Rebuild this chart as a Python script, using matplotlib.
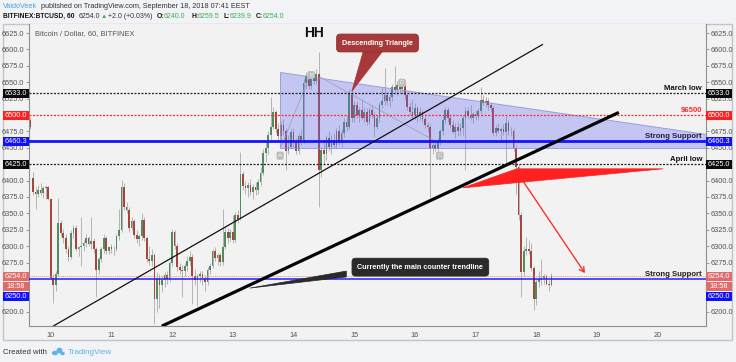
import numpy as np
import matplotlib
matplotlib.use("Agg")
import matplotlib.pyplot as plt
from matplotlib.patches import Polygon, Rectangle, Ellipse
from matplotlib.transforms import blended_transform_factory

plt.rcParams["font.family"] = ["Liberation Sans", "DejaVu Sans"]

# ---------------------------------------------------------------- data
# BITFINEX:BTCUSD 60 min candles (open, high, low, close), one list per day
sep09 = [(6492, 6497, 6478, 6482), (6404, 6413, 6378, 6383), (6383, 6390, 6356, 6380),
         (6380, 6393, 6375, 6386), (6386, 6396, 6378, 6381), (6381, 6392, 6374, 6388),
         (6388, 6394, 6372, 6390), (6390, 6392, 6370, 6372)]
sep10 = [(6372, 6374, 6250, 6252), (6252, 6258, 6214, 6240), (6240, 6262, 6232, 6258),
         (6258, 6374, 6255, 6336), (6336, 6340, 6315, 6320), (6320, 6326, 6305, 6313),
         (6313, 6318, 6290, 6295), (6295, 6300, 6278, 6283), (6283, 6325, 6280, 6320),
         (6320, 6333, 6312, 6328), (6328, 6332, 6292, 6296), (6296, 6300, 6285, 6298),
         (6298, 6345, 6270, 6300), (6300, 6310, 6292, 6305), (6305, 6318, 6298, 6312),
         (6312, 6316, 6300, 6304), (6304, 6345, 6296, 6308), (6308, 6312, 6290, 6295),
         (6295, 6298, 6222, 6264), (6264, 6284, 6258, 6280), (6280, 6298, 6276, 6295),
         (6295, 6318, 6290, 6312), (6312, 6316, 6288, 6292), (6292, 6300, 6288, 6298)]
sep11 = [(6298, 6304, 6290, 6295), (6295, 6300, 6287, 6296), (6296, 6318, 6292, 6315),
         (6315, 6356, 6310, 6325), (6325, 6401, 6322, 6391), (6391, 6396, 6355, 6359),
         (6359, 6368, 6350, 6355), (6355, 6360, 6322, 6328), (6328, 6345, 6325, 6338),
         (6338, 6342, 6312, 6317), (6317, 6325, 6305, 6311), (6311, 6318, 6300, 6315),
         (6315, 6351, 6310, 6340), (6340, 6345, 6308, 6312), (6312, 6316, 6276, 6280),
         (6280, 6300, 6272, 6278), (6278, 6296, 6270, 6287), (6287, 6290, 6181, 6219),
         (6219, 6260, 6200, 6252), (6252, 6258, 6205, 6240), (6240, 6255, 6230, 6248),
         (6248, 6260, 6238, 6256), (6256, 6262, 6242, 6250), (6250, 6278, 6246, 6275)]
sep12 = [(6275, 6326, 6270, 6321), (6321, 6324, 6295, 6300), (6300, 6305, 6262, 6268),
         (6268, 6275, 6258, 6264), (6264, 6272, 6222, 6262), (6262, 6275, 6255, 6270),
         (6270, 6285, 6262, 6278), (6278, 6292, 6272, 6284), (6284, 6288, 6212, 6254),
         (6254, 6265, 6240, 6248), (6248, 6258, 6208, 6255), (6255, 6262, 6245, 6258),
         (6258, 6262, 6240, 6252), (6252, 6256, 6232, 6245), (6245, 6268, 6240, 6264),
         (6264, 6275, 6258, 6270), (6270, 6296, 6266, 6292), (6292, 6298, 6278, 6282),
         (6282, 6290, 6272, 6286), (6286, 6290, 6270, 6276), (6276, 6356, 6272, 6299),
         (6299, 6330, 6295, 6321), (6321, 6328, 6305, 6312), (6312, 6326, 6308, 6322)]
sep13 = [(6322, 6348, 6305, 6310), (6310, 6352, 6306, 6348), (6348, 6355, 6336, 6342),
         (6342, 6444, 6340, 6410), (6410, 6415, 6385, 6392), (6392, 6400, 6380, 6388),
         (6388, 6398, 6375, 6394), (6394, 6402, 6378, 6383), (6383, 6395, 6372, 6390),
         (6390, 6398, 6378, 6385), (6385, 6402, 6380, 6398), (6398, 6420, 6392, 6412),
         (6412, 6448, 6408, 6442), (6442, 6460, 6428, 6450), (6450, 6476, 6440, 6470),
         (6470, 6528, 6462, 6482), (6482, 6512, 6478, 6505), (6505, 6508, 6472, 6478),
         (6478, 6488, 6460, 6468), (6468, 6490, 6462, 6485), (6485, 6494, 6470, 6476),
         (6476, 6480, 6416, 6445), (6445, 6470, 6440, 6452), (6452, 6478, 6448, 6474)]
sep14 = [(6474, 6480, 6450, 6458), (6458, 6465, 6440, 6445), (6445, 6472, 6440, 6468),
         (6468, 6478, 6455, 6462), (6462, 6555, 6458, 6549), (6549, 6565, 6540, 6560),
         (6560, 6566, 6540, 6545), (6545, 6562, 6540, 6558), (6558, 6566, 6548, 6552),
         (6552, 6570, 6548, 6562), (6562, 6596, 6359, 6416), (6416, 6452, 6405, 6447),
         (6447, 6460, 6425, 6440), (6440, 6470, 6432, 6465), (6465, 6475, 6445, 6452),
         (6452, 6470, 6440, 6462), (6462, 6472, 6450, 6455), (6455, 6480, 6450, 6475),
         (6475, 6485, 6455, 6460), (6460, 6478, 6452, 6472), (6472, 6495, 6466, 6490),
         (6490, 6500, 6476, 6482), (6482, 6540, 6478, 6533), (6533, 6536, 6490, 6496)]
sep15 = [(6496, 6522, 6490, 6515), (6515, 6522, 6495, 6500), (6500, 6512, 6490, 6508),
         (6508, 6525, 6492, 6495), (6495, 6512, 6490, 6505), (6505, 6510, 6485, 6490),
         (6490, 6512, 6486, 6508), (6508, 6515, 6495, 6500), (6500, 6505, 6467, 6482),
         (6482, 6500, 6478, 6496), (6496, 6520, 6490, 6515), (6515, 6543, 6510, 6522),
         (6522, 6572, 6515, 6530), (6530, 6535, 6515, 6522), (6522, 6532, 6512, 6528),
         (6528, 6548, 6522, 6543), (6543, 6575, 6532, 6538), (6538, 6552, 6530, 6546),
         (6546, 6556, 6535, 6540), (6540, 6552, 6532, 6546), (6546, 6550, 6525, 6530),
         (6530, 6534, 6508, 6512), (6512, 6520, 6500, 6505), (6505, 6525, 6495, 6500)]
sep16 = [(6500, 6518, 6494, 6510), (6510, 6514, 6490, 6498), (6498, 6512, 6492, 6505),
         (6505, 6508, 6490, 6494), (6494, 6498, 6480, 6485), (6485, 6490, 6475, 6482),
         (6482, 6486, 6374, 6450), (6450, 6462, 6440, 6455), (6455, 6462, 6445, 6448),
         (6448, 6465, 6445, 6460), (6460, 6478, 6455, 6475), (6475, 6498, 6470, 6493),
         (6493, 6512, 6488, 6508), (6508, 6512, 6490, 6496), (6496, 6500, 6480, 6485),
         (6485, 6492, 6472, 6474), (6474, 6488, 6465, 6482), (6482, 6490, 6468, 6476),
         (6476, 6488, 6470, 6480), (6480, 6500, 6470, 6495), (6495, 6512, 6416, 6506),
         (6506, 6512, 6495, 6500), (6500, 6515, 6492, 6496), (6496, 6505, 6488, 6502)]
sep17 = [(6502, 6508, 6492, 6498), (6498, 6510, 6494, 6506), (6506, 6543, 6502, 6523),
         (6523, 6530, 6515, 6518), (6518, 6528, 6512, 6522), (6522, 6526, 6508, 6515),
         (6515, 6520, 6505, 6510), (6510, 6514, 6468, 6473), (6473, 6485, 6468, 6480),
         (6480, 6488, 6472, 6476), (6476, 6482, 6462, 6478), (6478, 6486, 6470, 6474),
         (6474, 6498, 6427, 6488), (6488, 6492, 6470, 6475), (6475, 6482, 6468, 6476),
         (6476, 6480, 6445, 6450), (6450, 6455, 6380, 6420), (6420, 6425, 6340, 6348),
         (6348, 6352, 6223, 6260), (6260, 6300, 6255, 6292), (6292, 6314, 6286, 6296),
         (6296, 6310, 6288, 6292), (6292, 6305, 6262, 6267), (6267, 6270, 6203, 6219)]
sep18 = [(6219, 6250, 6210, 6245), (6245, 6262, 6238, 6250), (6250, 6280, 6240, 6252),
         (6252, 6258, 6242, 6254), (6254, 6258, 6240, 6243), (6243, 6248, 6232, 6240),
         (6240, 6259.5, 6239.9, 6254)]
first_bar = 9 + 16 / 24          # Sep 9, 16:00 (x axis in days of September)

# horizontal levels
level_march = 6533.0
level_6500 = 6500.0
level_support = 6460.3
level_april = 6425.0
level_last = 6254.0
level_support2 = 6250.0

# drawings (time in days, price)
thin_trend_t, thin_trend_p = [10.04, 18.11], [6178, 6608]
thick_trend_t, thick_trend_p = [11.83, 19.36], [6178, 6504]
triangle_t = [13.78, 13.78, 20.80, 20.80]
triangle_p = [6565, 6449, 6449, 6471]
pattern_t = [13.80, 14.27, 14.44, 16.30]
pattern_p = [6452, 6561, 6558, 6462]
point_names = ["A", "B", "C", "D"]
point_t = [13.78, 14.29, 16.41, 15.79]
point_p = [6438, 6561, 6438, 6549]
flag_t, flag_p = [16.79, 17.68, 20.09], [6389, 6418, 6418]
arrow_t, arrow_p = [17.79, 18.80], [6398, 6259]
days = list(range(10, 21))
yticks = [v for v in range(6200, 6626, 25) if v not in (6225, 6250, 6425, 6500)]

# ---------------------------------------------------------------- figure
W, H = 736, 362
fig = plt.figure(figsize=(W / 100, H / 100), dpi=100, facecolor="#f1f3f6")

ov = fig.add_axes([0, 0, 1, 1], zorder=-1)
ov.set_xlim(0, W); ov.set_ylim(H, 0); ov.axis("off")
ov.add_patch(Rectangle((3, 24), 729, 316, fc="#f2f2f2", ec="#c4c4c4", lw=1))

ax = fig.add_axes([29 / W, 1 - 326 / H, 677 / W, 302 / H])
ax.set_facecolor("#f2f2f2")
ax.set_xlim(9.6425, 20.796)
ax.set_ylim(6178.2, 6638.9)
for s in ["left", "right", "bottom"]:
    ax.spines[s].set_color("#8e8e8e"); ax.spines[s].set_linewidth(0.8)
ax.spines["top"].set_visible(False)

ax.set_yticks(yticks)
ax.set_yticklabels([f"{v:.1f}" for v in yticks])
ax.tick_params(axis="y", left=True, right=True, labelleft=True, labelright=True,
               labelsize=5.3, colors="#8e8e8e", labelcolor="#555555", length=2, pad=1.5,
               width=0.6)
ax.set_xticks(days)
ax.set_xticklabels([str(d) for d in days])
ax.tick_params(axis="x", labelsize=5.3, labelcolor="#555555", length=0, pad=4)

# candles
ohlc = np.array(sep09 + sep10 + sep11 + sep12 + sep13 + sep14 + sep15 + sep16 + sep17 + sep18,
                dtype=float)
t = first_bar + np.arange(len(ohlc)) / 24
o, h, l, c = ohlc.T
up = c >= o
ax.vlines(t, l, h, color="#b4b4b4", lw=0.7, zorder=2)
body = np.maximum(np.abs(c - o), 1.2)
ax.bar(t[up], body[up], bottom=o[up], width=0.68 / 24, color="#4f8d5e", lw=0, zorder=3)
ax.bar(t[~up], body[~up], bottom=c[~up], width=0.68 / 24, color="#a6453b", lw=0, zorder=3)

# descending triangle zone
ax.add_patch(Polygon(list(zip(triangle_t, triangle_p)), closed=True, fc=(0.40, 0.42, 0.95, 0.33),
                     ec=(0.55, 0.56, 0.85, 0.8), lw=0.7, zorder=4))
ax.plot(pattern_t[:2], pattern_p[:2], color="#9a9ab8", lw=0.5, zorder=4)
ax.plot(pattern_t[2:], pattern_p[2:], color="#9a9ab8", lw=0.5, zorder=4)
for name, pt, pp in zip(point_names, point_t, point_p):
    ax.text(pt, pp, name, fontsize=4.5, color="#f4f4f4", ha="center", va="center", zorder=6,
            bbox=dict(boxstyle="round,pad=0.25,rounding_size=0.3", fc="#bcbcbc", ec="none"))

# horizontal levels
ax.axhline(level_march, color="#222222", lw=0.9, ls=(0, (1.6, 1.2)), zorder=5)
ax.axhline(level_6500, color="#ff2b2b", lw=0.9, ls=(0, (1.6, 1.2)), zorder=5)
ax.axhline(level_support, color="#1414ff", lw=2.0, zorder=5)
ax.axhline(level_april, color="#222222", lw=0.9, ls=(0, (1.6, 1.2)), zorder=5)
ax.axhline(level_last, color="#ff8a8a", lw=0.6, ls=(0, (1.5, 1.0)), zorder=5)
ax.axhline(level_support2, color="#2020ff", lw=1.1, zorder=5)

# trend lines
ax.plot(thin_trend_t, thin_trend_p, color="#111111", lw=0.9, zorder=6, solid_capstyle="butt")
ax.plot(thick_trend_t, thick_trend_p, color="#050505", lw=2.3, zorder=6, solid_capstyle="butt")

# red bear flag + arrow
ax.add_patch(Polygon(list(zip(flag_t, flag_p)), closed=True, fc="#ff2020", ec="#ff2020",
                     lw=0.5, zorder=7))
ax.annotate("", xy=(arrow_t[1], arrow_p[1]), xytext=(arrow_t[0], arrow_p[0]), zorder=7,
            arrowprops=dict(arrowstyle="->,head_length=0.35,head_width=0.2", color="#ff2020",
                            lw=0.9, shrinkA=0, shrinkB=0))

# level texts at the right
rx = (702 - 29) / 677
bt = blended_transform_factory(ax.transAxes, ax.transData)
ax.text(rx, level_march + 2, "March low", transform=bt, ha="right", va="bottom",
        fontsize=5.6, fontweight="bold", color="#111111", zorder=8)
ax.text(rx, level_6500 + 2, "$6500", transform=bt, ha="right", va="bottom",
        fontsize=5.6, fontweight="bold", color="#ff2b2b", zorder=8)
ax.text(rx, level_support + 1.5, "Strong Support", transform=bt, ha="right", va="bottom",
        fontsize=5.6, fontweight="bold", color="#1d1d4a", zorder=8)
ax.text(rx, level_april + 2, "April low", transform=bt, ha="right", va="bottom",
        fontsize=5.6, fontweight="bold", color="#111111", zorder=8)
ax.text(rx, level_support2 + 1.5, "Strong Support", transform=bt, ha="right", va="bottom",
        fontsize=5.6, fontweight="bold", color="#1d1d1d", zorder=8)

# price labels on both scales
box_h = 9 * (6638.9 - 6178.2) / 302
bw = 26 / 677
def price_box(y, text, color, tcolor="white"):
    for x0 in (-bw, 1.0):
        ax.add_patch(Rectangle((x0, y - box_h / 2), bw, box_h, transform=bt, fc=color,
                               ec="none", clip_on=False, zorder=10))
        ax.text(x0 + bw / 2, y, text, transform=bt, ha="center", va="center",
                fontsize=5.3, color=tcolor, zorder=11, clip_on=False)

price_box(level_march, f"{level_march:.1f}", "#0a0a0a")
price_box(level_6500, f"{level_6500:.1f}", "#ff1f1f")
price_box(level_support, f"{level_support:.1f}", "#1010ff")
price_box(level_april, f"{level_april:.1f}", "#0a0a0a")
price_box(level_last, f"{level_last:.1f}", "#e06b6b")
price_box(6238.0, "18:58", "#e06b6b")
price_box(6222.8, f"{level_support2:.1f}", "#1010ff")

# callouts
ax.text(15.384, 6609.9, "Descending Triangle", ha="center", va="center", fontsize=5.2,
        fontweight="bold", color="white", zorder=12,
        bbox=dict(boxstyle="round,pad=0.75,rounding_size=0.5", fc="#a8393a", ec="#8e2c2c", lw=0.6))
ax.add_patch(Polygon([(15.15, 6597.5), (15.47, 6597.5), (14.96, 6536)], closed=True,
                     fc="#a8393a", ec="#a8393a", lw=0.5, zorder=11))
ax.text(16.09, 6268, "Currently the main counter trendline", ha="center", va="center",
        fontsize=5.2, fontweight="bold", color="white", zorder=12,
        bbox=dict(boxstyle="round,pad=0.75,rounding_size=0.5", fc="#2a2a2a", ec="#2a2a2a", lw=0.6))
ax.add_patch(Polygon([(14.87, 6262), (14.87, 6253), (13.28, 6236)], closed=True,
                     fc="#2a2a2a", ec="#2a2a2a", lw=0.5, zorder=11))
ax.text(14.33, 6625, "HH", ha="center", va="center", fontsize=10, fontweight="bold",
        color="#111111", zorder=12)

# title inside the pane
fig.text(35 / W, 1 - 34 / H, "Bitcoin / Dollar, 60, BITFINEX", fontsize=5.4, color="#555555",
         va="center", ha="left")

# header
def ftext(x, y, s, color="#333333", bold=False, size=5.2):
    fig.text(x / W, 1 - y / H, s, fontsize=size, color=color, va="center", ha="left",
             fontweight="bold" if bold else "normal")

ftext(3, 6, "VaidoVeek", color="#4aa3df")
ftext(41, 6, "published on TradingView.com, September 18, 2018 07:41 EEST")
green = "#3fae49"
ftext(3, 16.5, "BITFINEX:BTCUSD, 60", color="#111111", bold=True, size=4.75)
ftext(79, 16.5, "6254.0", size=5.0)
ftext(101, 16.5, "\u25b2", color=green, size=4.6)
ftext(108, 16.5, "+2.0 (+0.03%)", size=5.0)
ftext(157, 16.5, "O:", color="#111111", bold=True, size=4.9)
ftext(164, 16.5, "6240.0", color=green, size=5.0)
ftext(191, 16.5, "H:", color="#111111", bold=True, size=4.9)
ftext(198, 16.5, "6259.5", color=green, size=5.0)
ftext(224, 16.5, "L:", color="#111111", bold=True, size=4.9)
ftext(230, 16.5, "6239.9", color=green, size=5.0)
ftext(256, 16.5, "C:", color="#111111", bold=True, size=4.9)
ftext(263, 16.5, "6254.0", color=green, size=5.0)

# footer
ftext(3, 352, "Created with", color="#333333", size=5.6)
for cx, cy, rw, rh in [(55, 353, 6, 4.5), (59.5, 350.5, 6, 5.5), (62.5, 353.5, 4.5, 3.5)]:
    ov.add_patch(Ellipse((cx, cy), rw, rh, fc="#5db2e6", ec="none"))
ftext(68, 352, "TradingView", color="#5db2e6", size=5.8)

fig.savefig("out.png", dpi=100, facecolor=fig.get_facecolor())
